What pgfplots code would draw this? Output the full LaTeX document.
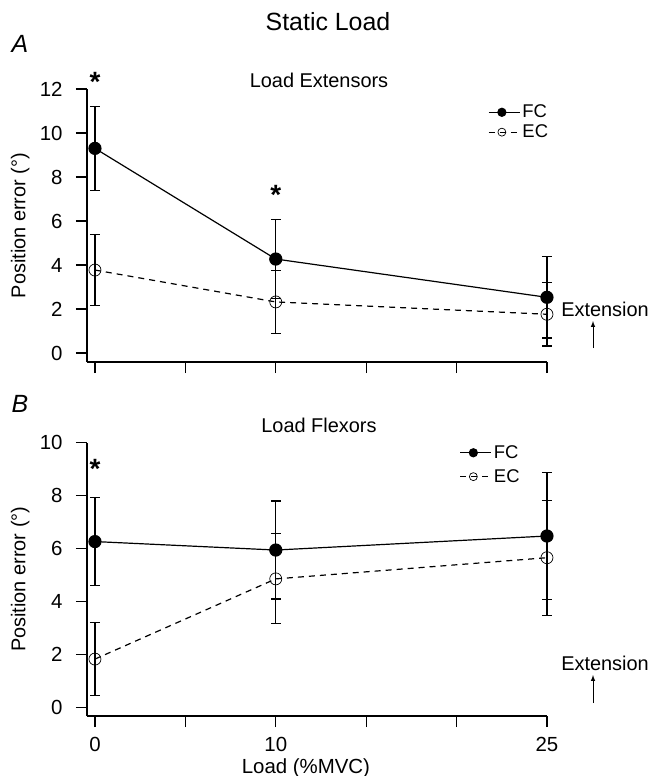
\documentclass[border=0pt]{standalone}
\usepackage{fontspec}
\setmainfont{Liberation Sans}
\usepackage{pgfplots}
\usepackage{pgfplotstable}
\pgfplotsset{compat=1.18}

% load extensors
\pgfplotstableread{
x y e
0 9.30 1.92
10 4.27 1.78
25 2.53 1.85
}\extFC
\pgfplotstableread{
x y e
0 3.77 1.60
10 2.32 1.43
25 1.76 1.44
}\extEC
% load flexors
\pgfplotstableread{
x y e
0 6.26 1.67
10 5.94 1.85
25 6.47 2.40
}\flxFC
\pgfplotstableread{
x y e
0 1.82 1.37
10 4.85 1.70
25 5.65 2.17
}\flxEC

\newcommand{\tl}{\fontsize{20.5}{23}\selectfont}

\pgfplotsset{
  igor/.style={
    axis lines=left,
    axis line style={-, line width=1.2bp},
    tick align=outside,
    major tick length=11bp,
    tick style={line width=1.2bp, black},
    x=18.08bp,
    xmin=-0.44, xmax=25,
    xtick={0,5,10,15,20,25},
    clip=false,
    ticklabel style={font=\tl},
    yticklabel style={xshift=-10bp},
    xticklabel style={yshift=-7bp},
    /pgf/number format/assume math mode=true,
    ylabel={Position error (\textdegree)},
    ylabel style={font=\fontsize{20}{23}\selectfont, at={(axis description cs:-0.145,0.5)}, anchor=center},
    legend cell align=left,
    legend style={draw=none, fill=none, font=\fontsize{18.5}{21}\selectfont, inner sep=0pt,
      nodes={inner sep=2bp}},
    legend image code/.code={
      \path (0bp,0bp) -- (31bp,0bp);
      \draw[mark repeat=2, mark phase=2, #1, mark size=4bp]
        plot coordinates {(0bp,0bp) (13bp,0bp) (26bp,0bp)};},
    error bars/y dir=both,
    error bars/y explicit,
    error bars/error mark options={rotate=90, mark size=5bp, line width=1.2bp},
    error bars/error bar style={line width=1.2bp, solid},
  },
  fcstyle/.style={black, line width=1.2bp, mark=*, mark size=6bp},
  ecstyle/.style={black, line width=1.2bp, dash pattern=on 6bp off 5bp,
    mark=o, mark size=6bp, mark options={solid, line width=0.7bp}},
}

\begin{document}
\begin{tikzpicture}
\useasboundingbox (0,0) rectangle (664bp,-776bp);

\begin{axis}[igor,
  at={(87bp,-362bp)}, anchor=south west,
  y=22bp, ymin=-0.41, ymax=12,
  ytick={0,2,...,12},
  xticklabels={},
  legend style={at={(axis description cs:0.872,0.949)}, anchor=north west, row sep=1.5bp},
]
\addplot[fcstyle] table[x=x, y=y, y error=e] {\extFC};
\addplot[ecstyle] table[x=x, y=y, y error=e] {\extEC};
\legend{FC, EC}
\node[font=\fontsize{28}{28}\selectfont\bfseries] at (axis cs:0,12.3) {*};
\node[font=\fontsize{28}{28}\selectfont\bfseries] at (axis cs:10,7.2) {*};
\end{axis}

\begin{axis}[igor,
  at={(87bp,-716bp)}, anchor=south west,
  y=26.47bp, ymin=-0.33, ymax=10,
  ytick={0,2,...,10},
  xticklabels={0,,10,,,25},
  xlabel={Load (\%MVC)},
  xlabel style={font=\tl, at={(axis description cs:0.476,-0.19)}, anchor=center},
  legend style={at={(axis description cs:0.810,0.997)}, anchor=north west, row sep=5.5bp},
]
\addplot[fcstyle] table[x=x, y=y, y error=e] {\flxFC};
\addplot[ecstyle] table[x=x, y=y, y error=e] {\flxEC};
\legend{FC, EC}
\node[font=\fontsize{28}{28}\selectfont\bfseries] at (axis cs:0,9.0) {*};
\end{axis}

% titles and panel letters
\node[font=\fontsize{25}{28}\selectfont] at (328bp,-22bp) {Static Load};
\node[font=\fontsize{25}{28}\selectfont\itshape] at (20bp,-44bp) {A};
\node[font=\fontsize{20}{23}\selectfont] at (319bp,-80bp) {Load Extensors};
\node[font=\fontsize{25}{28}\selectfont\itshape] at (20bp,-404bp) {B};
\node[font=\fontsize{20}{23}\selectfont] at (319bp,-425bp) {Load Flexors};

% extension markers
\node[font=\fontsize{20}{23}\selectfont] at (605bp,-309bp) {Extension};
\draw[-latex, line width=1bp] (593bp,-348bp) -- (593bp,-321bp);
\node[font=\fontsize{20}{23}\selectfont] at (605bp,-663bp) {Extension};
\draw[-latex, line width=1bp] (593bp,-703bp) -- (593bp,-675bp);
\end{tikzpicture}
\end{document}
